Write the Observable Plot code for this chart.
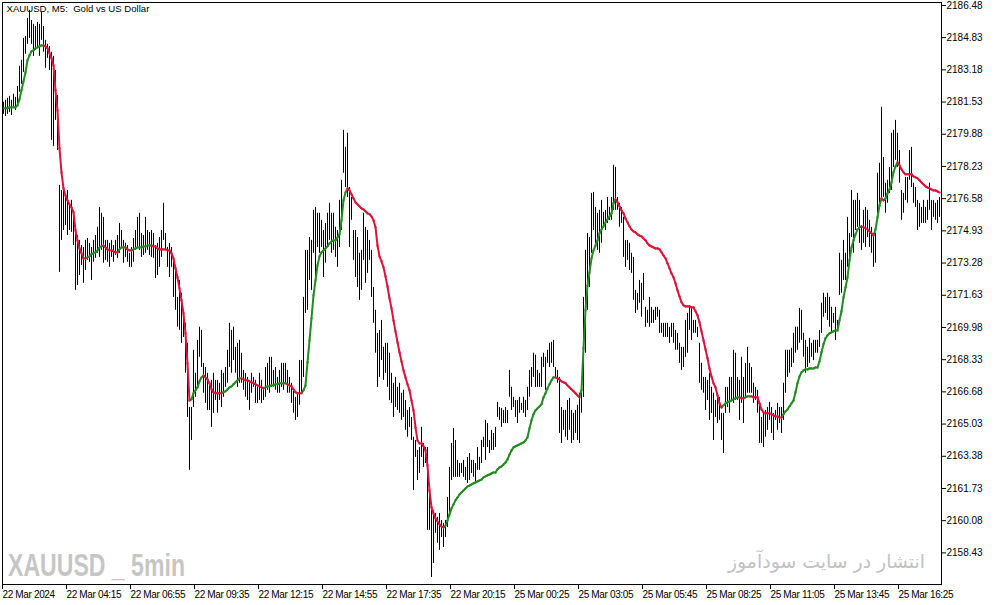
<!DOCTYPE html>
<html><head><meta charset="utf-8">
<script src="https://cdn.jsdelivr.net/npm/d3@7"></script>
<script src="https://cdn.jsdelivr.net/npm/@observablehq/plot@0.6"></script>
<style>
body{margin:0;background:#fff}
svg{display:block}
g[aria-label="x-axis tick label"] text{letter-spacing:-0.35px}
g[aria-label="text"] text{white-space:pre}
</style>
</head><body><div id="chart"></div>
<script>
const title = "XAUUSD, M5:  Gold vs US Dollar";
const watermarkLeft = "XAUUSD _ 5min";
const watermarkRight = "انتشار در سایت سودآموز";

const highs = [
2181.52,2181.62,2181.72,2181.82,2181.62,2181.93,2181.77,2182.33,2183.36,2183.67,
2184.79,2184.89,2185.82,2186.23,2185.71,2185.51,2185.40,2185.61,2185.51,2186.13,
2185.40,2184.69,2184.49,2184.38,2184.08,2183.87,2183.15,2181.87,2177.26,2177.00,
2177.15,2176.74,2177.00,2176.23,2176.49,2175.72,2174.80,2174.69,2174.44,2174.18,
2174.08,2174.44,2174.54,2174.29,2174.08,2174.44,2174.69,2175.11,2176.13,2175.83,
2175.62,2174.44,2174.44,2174.29,2174.44,2174.18,2174.44,2174.69,2175.31,2174.95,
2174.44,2174.29,2174.18,2173.78,2174.08,2174.54,2174.95,2175.62,2175.83,2174.80,
2174.69,2175.62,2174.95,2174.85,2174.95,2174.80,2174.18,2174.29,2174.59,2174.95,
2176.34,2174.80,2174.08,2174.29,2174.08,2173.42,2172.90,2171.52,2172.39,2171.73,
2170.86,2170.19,2169.17,2165.88,2165.88,2168.81,2167.63,2169.32,2169.99,2169.83,
2168.14,2167.93,2167.63,2167.12,2167.27,2167.63,2167.27,2167.27,2167.12,2167.78,
2167.63,2167.93,2168.81,2170.19,2169.83,2169.99,2168.96,2169.17,2169.32,2168.66,
2167.78,2167.63,2167.42,2167.27,2167.63,2167.42,2167.27,2166.91,2167.63,2167.27,
2166.91,2167.93,2168.14,2168.45,2168.45,2167.78,2167.93,2167.42,2167.78,2168.14,
2168.14,2168.14,2167.78,2167.42,2167.12,2166.76,2166.40,2166.61,2168.29,2168.29,
2171.52,2173.93,2173.93,2174.59,2174.44,2175.98,2176.13,2175.83,2175.83,2175.47,
2174.95,2175.31,2175.83,2176.34,2175.83,2175.83,2175.11,2174.95,2176.49,2177.52,
2180.08,2179.21,2179.93,2177.15,2176.64,2174.95,2174.95,2174.59,2173.78,2173.93,
2175.83,2175.11,2174.95,2174.44,2173.93,2172.03,2170.86,2169.68,2169.83,2170.34,
2168.96,2169.17,2169.17,2168.66,2167.63,2167.12,2167.42,2166.91,2167.12,2166.61,
2166.76,2166.24,2165.73,2165.88,2165.37,2164.35,2164.19,2163.68,2163.83,2164.86,
2164.04,2163.83,2163.83,2161.78,2160.76,2160.61,2160.45,2160.25,2160.45,2160.09,
2159.94,2160.09,2161.27,2162.81,2164.04,2164.81,2164.19,2163.17,2163.01,2163.01,
2163.17,2162.81,2163.32,2163.52,2163.17,2163.17,2163.01,2163.83,2163.32,2164.19,
2164.35,2165.22,2165.06,2164.19,2164.71,2164.55,2164.86,2166.14,2165.88,2165.83,
2165.73,2165.88,2165.73,2167.78,2166.91,2166.40,2166.24,2166.24,2166.40,2166.09,
2166.40,2166.24,2166.91,2167.78,2167.93,2168.66,2168.56,2167.78,2167.63,2168.45,
2168.66,2168.45,2168.81,2169.17,2169.22,2169.32,2167.93,2167.78,2167.42,2165.88,
2165.73,2165.73,2166.24,2166.35,2165.73,2165.58,2165.73,2165.99,2166.61,2166.91,
2171.52,2173.93,2174.80,2174.59,2176.85,2176.90,2176.13,2175.83,2175.98,2176.49,
2175.88,2175.98,2176.64,2176.13,2176.64,2178.29,2178.18,2176.64,2176.34,2176.13,
2175.62,2174.44,2174.44,2174.29,2173.78,2173.57,2171.88,2171.73,2172.39,2172.24,
2172.75,2171.01,2170.86,2171.52,2171.01,2170.86,2171.01,2171.01,2170.86,2170.19,
2170.19,2170.19,2170.19,2169.99,2170.19,2170.19,2169.83,2169.68,2169.17,2168.96,
2168.96,2170.34,2170.70,2171.01,2171.01,2170.34,2170.34,2169.99,2169.17,2168.14,
2167.42,2167.42,2167.27,2167.63,2166.91,2166.61,2166.24,2166.61,2166.40,2165.58,
2165.58,2166.91,2166.91,2167.42,2167.42,2168.81,2168.66,2167.42,2167.27,2168.45,
2167.42,2168.14,2168.96,2168.14,2167.93,2167.12,2166.91,2166.76,2166.09,2165.37,
2165.58,2165.73,2165.88,2166.14,2165.88,2165.58,2165.73,2166.09,2165.88,2165.88,
2167.12,2168.81,2168.81,2168.81,2168.91,2169.68,2169.99,2169.99,2170.96,2170.86,
2169.68,2169.32,2168.96,2169.42,2169.17,2169.32,2169.32,2169.32,2169.83,2171.22,
2171.73,2171.52,2171.73,2171.52,2171.01,2170.70,2171.01,2170.34,2173.78,2173.42,
2174.44,2173.78,2175.62,2174.80,2177.00,2176.49,2176.49,2176.85,2176.49,2175.11,
2175.98,2176.13,2175.98,2175.47,2175.11,2174.80,2174.80,2177.88,2178.39,2181.26,
2178.69,2177.37,2177.52,2178.18,2179.93,2180.08,2180.59,2179.93,2179.05,2177.00,
2176.85,2177.67,2177.67,2179.05,2179.21,2177.37,2177.15,2176.49,2176.34,2176.13,
2176.49,2176.13,2176.49,2177.37,2176.49,2176.49,2176.34,2176.49,2176.64
];

const lows = [
2180.90,2180.79,2180.90,2181.00,2180.84,2181.26,2181.10,2181.36,2182.03,2182.44,
2183.05,2183.98,2184.49,2184.79,2184.49,2183.87,2184.18,2184.28,2183.87,2184.69,
2184.08,2183.26,2183.77,2183.15,2179.57,2179.26,2180.59,2179.05,2172.80,2174.44,
2174.95,2175.21,2174.69,2174.95,2174.85,2174.18,2171.88,2172.13,2172.64,2173.16,
2172.24,2172.90,2173.42,2173.32,2172.39,2173.32,2173.52,2173.78,2173.57,2173.93,
2173.27,2173.42,2173.32,2173.06,2173.57,2173.32,2173.67,2173.52,2173.78,2174.08,
2173.27,2173.57,2173.32,2173.06,2173.06,2173.32,2173.93,2174.08,2173.93,2173.57,
2173.67,2173.78,2173.93,2173.67,2173.57,2173.52,2172.49,2172.64,2173.06,2173.57,
2174.44,2173.93,2173.06,2172.54,2173.06,2171.52,2170.86,2169.99,2169.83,2169.17,
2169.47,2167.63,2165.37,2162.66,2164.19,2165.88,2166.40,2166.91,2168.45,2167.93,
2166.61,2166.09,2165.73,2165.73,2164.86,2165.58,2166.24,2165.58,2166.24,2165.88,
2166.40,2166.91,2167.12,2167.93,2167.63,2168.29,2167.63,2166.91,2167.12,2167.12,
2166.76,2166.40,2166.24,2165.73,2166.61,2166.91,2166.09,2166.09,2166.24,2166.09,
2166.24,2166.40,2166.76,2166.61,2166.91,2166.91,2166.76,2166.61,2166.61,2166.91,
2166.76,2167.12,2166.61,2166.61,2166.09,2165.58,2165.22,2165.37,2165.99,2166.61,
2167.42,2170.70,2170.86,2172.39,2171.88,2173.78,2172.54,2174.08,2173.78,2174.08,
2172.54,2173.27,2174.08,2174.44,2173.78,2173.93,2173.57,2173.06,2174.08,2174.95,
2177.88,2177.15,2176.64,2174.08,2175.47,2173.42,2172.54,2172.03,2171.37,2171.88,
2173.42,2172.24,2172.75,2173.42,2171.52,2170.19,2168.66,2166.91,2167.42,2168.29,
2167.27,2167.63,2166.91,2166.24,2166.09,2165.37,2165.88,2165.73,2165.58,2165.22,
2165.37,2164.71,2164.35,2164.86,2164.19,2161.63,2163.32,2162.14,2162.50,2163.32,
2162.81,2163.01,2159.58,2159.58,2157.17,2157.89,2159.43,2158.92,2158.56,2159.22,
2158.71,2159.22,2159.73,2160.25,2162.14,2162.30,2162.30,2162.30,2162.30,2162.50,
2162.30,2162.14,2161.99,2162.14,2162.50,2162.30,2161.99,2162.66,2162.66,2163.01,
2163.83,2163.17,2163.83,2163.52,2163.68,2163.68,2163.83,2165.37,2165.22,2164.86,
2165.06,2165.06,2165.06,2166.40,2165.73,2165.88,2165.37,2165.06,2165.58,2165.73,
2165.58,2165.37,2165.73,2166.40,2166.91,2167.42,2166.91,2166.91,2166.91,2166.91,
2167.93,2166.76,2168.14,2167.93,2168.14,2167.93,2167.42,2167.12,2164.55,2164.04,
2164.71,2164.35,2164.19,2164.71,2164.04,2164.19,2164.55,2164.19,2164.04,2165.58,
2166.40,2168.66,2170.86,2172.03,2173.78,2174.95,2174.29,2173.93,2173.78,2174.29,
2175.11,2174.95,2175.31,2175.47,2175.47,2175.98,2175.98,2175.98,2175.11,2175.31,
2173.57,2173.06,2173.42,2172.90,2172.75,2171.37,2170.70,2170.86,2171.22,2170.50,
2171.37,2169.99,2170.19,2169.99,2170.19,2170.19,2170.34,2170.50,2169.68,2169.68,
2169.47,2169.47,2169.47,2169.17,2169.47,2169.17,2168.81,2168.81,2168.14,2167.78,
2167.93,2168.45,2168.66,2169.83,2169.32,2169.68,2169.68,2169.47,2167.12,2166.76,
2166.61,2165.73,2166.24,2165.22,2165.58,2164.19,2165.37,2165.06,2165.22,2164.19,
2163.52,2165.58,2165.88,2165.58,2166.24,2166.09,2166.24,2166.24,2165.22,2166.09,
2165.06,2166.40,2166.61,2166.61,2166.61,2166.09,2166.24,2165.58,2164.04,2164.04,
2163.83,2164.35,2164.71,2165.22,2164.55,2164.19,2165.22,2164.71,2165.06,2164.55,
2165.22,2166.61,2167.42,2167.63,2167.93,2168.14,2168.66,2168.81,2169.17,2169.32,
2168.45,2167.63,2167.93,2168.14,2168.45,2168.29,2168.66,2168.66,2168.96,2169.68,
2170.50,2170.70,2170.34,2169.99,2169.68,2170.19,2169.32,2169.83,2171.62,2171.73,
2172.39,2172.39,2173.06,2173.57,2174.59,2173.78,2174.95,2175.11,2174.29,2173.93,
2174.29,2174.08,2174.59,2174.08,2173.78,2173.06,2173.27,2175.83,2176.34,2176.49,
2176.64,2175.83,2176.34,2176.85,2177.00,2178.18,2178.54,2178.18,2177.37,2175.47,
2175.83,2176.49,2176.34,2177.52,2177.15,2176.34,2176.13,2174.95,2175.11,2175.31,
2175.31,2175.31,2175.47,2175.98,2174.95,2175.62,2175.47,2175.31,2175.62
];

const movingAverage = [
2181.21,2181.21,2181.21,2181.26,2181.26,2181.26,2181.26,2181.36,2181.67,2182.13,
2182.59,2183.05,2183.67,2183.92,2184.13,2184.18,2184.28,2184.33,2184.38,2184.43,
2184.43,2184.38,2184.28,2184.03,2183.77,2183.41,2182.13,2181.10,2179.16,2177.93,
2177.11,2176.74,2176.49,2176.29,2176.13,2175.88,2174.95,2174.44,2174.03,2173.78,
2173.52,2173.52,2173.57,2173.62,2173.73,2173.78,2173.83,2173.93,2174.08,2174.13,
2174.18,2174.08,2173.98,2173.93,2173.93,2173.88,2173.83,2173.83,2173.98,2174.08,
2174.08,2174.08,2173.98,2173.93,2173.93,2173.98,2174.03,2174.08,2174.08,2174.08,
2174.13,2174.13,2174.18,2174.18,2174.18,2174.13,2174.13,2174.03,2173.98,2173.98,
2173.98,2173.98,2173.93,2173.93,2173.78,2173.52,2173.01,2172.54,2171.98,2171.37,
2170.70,2169.68,2168.14,2166.24,2166.30,2166.61,2166.76,2166.91,2167.22,2167.42,
2167.52,2167.42,2167.32,2167.12,2166.81,2166.66,2166.61,2166.61,2166.61,2166.61,
2166.66,2166.71,2166.81,2166.91,2166.96,2167.07,2167.17,2167.27,2167.37,2167.37,
2167.32,2167.27,2167.27,2167.22,2167.17,2167.12,2167.07,2167.01,2166.96,2166.91,
2166.86,2166.91,2166.96,2166.96,2167.01,2167.01,2167.07,2167.07,2167.12,2167.12,
2167.12,2167.12,2167.07,2167.01,2166.96,2166.81,2166.66,2166.61,2166.61,2166.61,
2166.76,2167.01,2168.19,2169.32,2170.45,2171.62,2172.39,2173.16,2173.62,2173.83,
2173.93,2174.03,2174.13,2174.29,2174.39,2174.44,2174.44,2174.59,2174.75,2175.47,
2176.49,2176.90,2177.11,2177.00,2176.80,2176.59,2176.39,2176.29,2176.18,2176.08,
2176.03,2175.93,2175.83,2175.78,2175.67,2175.47,2175.11,2174.18,2173.62,2173.37,
2173.06,2172.60,2172.08,2171.47,2170.96,2170.34,2169.78,2169.22,2168.71,2168.24,
2167.78,2167.42,2167.07,2166.76,2166.24,2165.73,2164.86,2164.19,2164.04,2164.04,
2163.89,2163.68,2162.91,2161.63,2160.76,2160.45,2160.20,2160.04,2159.89,2159.78,
2159.73,2159.83,2160.09,2160.40,2160.71,2160.91,2161.12,2161.27,2161.42,2161.53,
2161.63,2161.73,2161.83,2161.88,2161.94,2161.99,2162.04,2162.09,2162.14,2162.19,
2162.30,2162.35,2162.40,2162.45,2162.50,2162.55,2162.55,2162.71,2162.81,2162.86,
2162.96,2163.06,2163.22,2163.47,2163.68,2163.83,2163.89,2163.94,2163.99,2164.04,
2164.09,2164.19,2164.35,2164.81,2165.22,2165.53,2165.73,2165.83,2165.94,2166.04,
2166.40,2166.61,2166.86,2167.07,2167.27,2167.42,2167.42,2167.37,2167.32,2167.22,
2167.17,2167.12,2167.01,2166.91,2166.81,2166.71,2166.61,2166.50,2166.40,2166.76,
2168.91,2170.86,2172.13,2172.80,2173.52,2173.93,2174.18,2174.44,2174.80,2175.00,
2175.16,2175.37,2175.52,2175.67,2175.83,2176.34,2176.54,2176.39,2176.18,2175.98,
2175.83,2175.57,2175.37,2175.16,2175.00,2174.90,2174.85,2174.75,2174.69,2174.64,
2174.54,2174.44,2174.29,2174.18,2174.13,2174.08,2174.03,2174.03,2173.98,2173.83,
2173.67,2173.52,2173.27,2173.01,2172.75,2172.54,2172.24,2171.88,2171.57,2171.27,
2171.11,2171.06,2171.06,2171.06,2171.01,2171.01,2170.81,2170.60,2170.24,2169.78,
2169.32,2168.86,2168.40,2167.88,2167.47,2167.12,2166.91,2166.50,2166.09,2165.88,
2165.99,2166.09,2166.14,2166.19,2166.24,2166.30,2166.35,2166.40,2166.40,2166.35,
2166.35,2166.40,2166.45,2166.45,2166.45,2166.40,2166.40,2166.40,2166.09,2165.78,
2165.63,2165.58,2165.58,2165.58,2165.53,2165.47,2165.42,2165.42,2165.37,2165.37,
2165.53,2165.68,2165.78,2165.94,2166.09,2166.24,2166.66,2167.12,2167.47,2167.68,
2167.78,2167.83,2167.83,2167.88,2167.88,2167.88,2167.93,2167.93,2168.24,2168.71,
2169.12,2169.42,2169.58,2169.68,2169.73,2169.78,2169.83,2169.83,2170.34,2170.81,
2171.52,2172.03,2172.54,2173.42,2174.08,2174.44,2174.75,2175.00,2175.11,2175.16,
2175.11,2175.06,2175.00,2174.90,2174.80,2174.69,2175.00,2175.62,2176.23,2176.59,
2176.49,2176.59,2176.85,2177.05,2177.41,2177.93,2178.23,2178.44,2178.29,2178.08,
2177.93,2177.83,2177.83,2177.83,2177.83,2177.72,2177.67,2177.62,2177.52,2177.41,
2177.31,2177.21,2177.15,2177.11,2177.05,2177.00,2177.00,2176.95,2176.90
];

const priceTicks = [2186.48,2184.83,2183.18,2181.53,2179.88,2178.23,2176.58,2174.93,2173.28,
  2171.63,2169.98,2168.33,2166.68,2165.03,2163.38,2161.73,2160.08,2158.43];
const timeTickBars = [0,32,64,96,128,160,192,224,256,288,320,352,384,416,448];
const timeTickLabels = ["22 Mar 2024","22 Mar 04:15","22 Mar 06:55","22 Mar 09:35","22 Mar 12:15",
  "22 Mar 14:55","22 Mar 17:35","22 Mar 20:15","25 Mar 00:25","25 Mar 03:05","25 Mar 05:45",
  "25 Mar 08:25","25 Mar 11:05","25 Mar 13:45","25 Mar 16:25"];

const bars = highs.map((h, i) => ({i, high: h, low: lows[i]}));
const segs = [];
let rising = true;
for (let i = 1; i < movingAverage.length; i++) {
  if (movingAverage[i] > movingAverage[i-1]) rising = true;
  else if (movingAverage[i] < movingAverage[i-1]) rising = false;
  segs.push({x1: i-1, y1: movingAverage[i-1], x2: i, y2: movingAverage[i], rising});
}
const labelMap = new Map(timeTickBars.map((b, k) => [b, timeTickLabels[k]]));

const chart = Plot.plot({
  width: 994, height: 605,
  marginLeft: 2, marginTop: 2, marginRight: 53, marginBottom: 21,
  style: {fontFamily: "'Liberation Sans', Arial, sans-serif", fontSize: "10px", background: "#fff", color: "#000"},
  x: {type: "linear", domain: [-0.5, 469], axis: null},
  y: {domain: [2156.81, 2186.63], axis: null},
  marks: [
    Plot.ruleX(bars, {x: "i", y1: "low", y2: "high", stroke: "#000", strokeWidth: 1}),
    Plot.link(segs.filter(d => d.rising), {x1: "x1", y1: "y1", x2: "x2", y2: "y2", stroke: "#228b22", strokeWidth: 2, strokeLinecap: "square"}),
    Plot.link(segs.filter(d => !d.rising), {x1: "x1", y1: "y1", x2: "x2", y2: "y2", stroke: "#dc143c", strokeWidth: 2, strokeLinecap: "square"}),
    Plot.frame({stroke: "#000"}),
    Plot.axisY(priceTicks, {anchor: "right", tickSize: 4, tickPadding: 1, tickFormat: d => d.toFixed(2), fontSize: 10, stroke: "#000", fill: "#000"}),
    Plot.axisX(timeTickBars, {anchor: "bottom", tickSize: 5, tickPadding: 1, tickFormat: d => labelMap.get(d), textAnchor: "start", dx: -1, fontSize: 10, stroke: "#000", fill: "#000"}),
    Plot.text([title], {frameAnchor: "top-left", text: d => d, dx: 4, dy: 3, textAnchor: "start", lineAnchor: "top", fontSize: 9.6, fill: "#000"})
  ]
});

const svg = d3.select(chart);
svg.insert("text", ":first-child")
  .attr("x", 8).attr("y", 576)
  .attr("text-anchor", "start")
  .attr("font-family", "'Liberation Sans Narrow', 'Liberation Sans', Arial, sans-serif")
  .attr("font-weight", "bold").attr("font-size", 31)
  .attr("textLength", 177).attr("lengthAdjust", "spacingAndGlyphs")
  .attr("fill", "#c6c6c6")
  .text(watermarkLeft);
svg.insert("text", ":first-child")
  .attr("x", 826.5).attr("y", 568)
  .attr("text-anchor", "middle")
  .attr("font-family", "'DejaVu Sans', sans-serif")
  .attr("font-size", 19)
  .attr("textLength", 197).attr("lengthAdjust", "spacingAndGlyphs")
  .attr("fill", "#c2c2c2")
  .text(watermarkRight);

document.getElementById("chart").appendChild(chart);
</script>
</body></html>
